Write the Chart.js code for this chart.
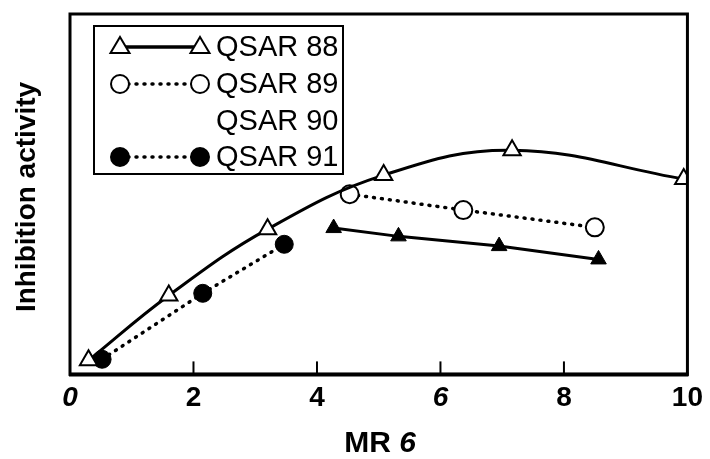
<!DOCTYPE html>
<html>
<head>
<meta charset="utf-8">
<script src="https://cdn.jsdelivr.net/npm/chart.js@4"></script>
<style>
  html, body { margin: 0; padding: 0; background: #fff; }
</style>
</head>
<body>
<canvas id="canvas" width="710" height="459"></canvas>
<script>
// MR values (x) and inhibition activity (y, arbitrary units 0-100)
var qsar88X = [0.3, 1.6, 3.2, 5.08, 7.16, 9.94];
var qsar88Y = [3.9, 21.9, 40.3, 55.3, 62.2, 54.2];
var qsar89X = [4.53, 6.37, 8.5];
var qsar89Y = [50.0, 45.6, 40.8];
var qsar90X = [4.27, 5.32, 6.95, 8.56];
var qsar90Y = [40.6, 38.3, 35.6, 31.9];
var qsar91X = [0.52, 2.15, 3.47];
var qsar91Y = [4.2, 22.5, 36.1];
var xTicks = [0, 2, 4, 6, 8, 10];
var seriesNames = ['QSAR 88', 'QSAR 89', 'QSAR 90', 'QSAR 91'];

var FONT = "'Liberation Sans', Arial, Helvetica, sans-serif";

function pts(xs, ys) {
    return xs.map(function(x, i) { return {x: x, y: ys[i]}; });
}

function drawMarker(ctx, style, filled, x, y, r) {
    ctx.save();
    ctx.beginPath();
    if (style === 'triangle') {
        ctx.moveTo(x, y - r);
        ctx.lineTo(x + r * 0.95, y + r * 0.6);
        ctx.lineTo(x - r * 0.95, y + r * 0.6);
        ctx.closePath();
    } else {
        ctx.arc(x, y, r, 0, Math.PI * 2);
    }
    ctx.fillStyle = filled ? '#000' : '#fff';
    ctx.fill();
    ctx.lineWidth = 2;
    ctx.strokeStyle = '#000';
    ctx.stroke();
    ctx.restore();
}

// frame, inward tick marks, titles and the boxed legend
var decorPlugin = {
    id: 'decor',
    afterDraw: function(chart) {
        var ctx = chart.ctx;
        var a = chart.chartArea;
        var xs = chart.scales.x;
        ctx.save();
        ctx.strokeStyle = '#000';
        ctx.lineWidth = 3;
        ctx.strokeRect(a.left, a.top, a.right - a.left, a.bottom - a.top);
        ctx.lineWidth = 4;
        ctx.beginPath();
        ctx.moveTo(a.left - 1, a.bottom);
        ctx.lineTo(a.right + 1, a.bottom);
        ctx.stroke();

        ctx.lineWidth = 2;
        xTicks.forEach(function(v) {
            if (v === 0 || v === 10) return;
            var px = xs.getPixelForValue(v);
            ctx.beginPath();
            ctx.moveTo(px, a.bottom);
            ctx.lineTo(px, a.bottom - 13);
            ctx.stroke();
        });

        // x title "MR 6" with italic 6
        ctx.fillStyle = '#000';
        ctx.textBaseline = 'middle';
        ctx.textAlign = 'left';
        var f1 = 'bold 30px ' + FONT, f2 = 'italic bold 30px ' + FONT;
        ctx.font = f1;
        var w1 = ctx.measureText('MR ').width;
        ctx.font = f2;
        var w2 = ctx.measureText('6').width;
        var sx = 380 - (w1 + w2) / 2;
        ctx.font = f1;
        ctx.fillText('MR ', sx, 444);
        ctx.font = f2;
        ctx.fillText('6', sx + w1, 444);

        // y title
        ctx.save();
        ctx.translate(27, 197);
        ctx.rotate(-Math.PI / 2);
        ctx.textAlign = 'center';
        ctx.font = 'bold 28px ' + FONT;
        ctx.fillText('Inhibition activity', 0, 0);
        ctx.restore();

        // legend
        ctx.lineWidth = 2;
        ctx.strokeRect(94, 26, 249, 148);
        var rows = [47, 84, 121, 157];
        var styles = [
            {marker: 'triangle', filled: false, dash: [], show: true, r: 10},
            {marker: 'circle', filled: false, dash: [1, 7], show: true, r: 9},
            {marker: null, filled: true, dash: [], show: false, r: 0},
            {marker: 'circle', filled: true, dash: [1, 7], show: true, r: 9}
        ];
        rows.forEach(function(y, i) {
            var s = styles[i];
            if (s.show) {
                ctx.save();
                ctx.lineWidth = 3.5;
                ctx.lineCap = s.dash.length ? 'round' : 'butt';
                ctx.setLineDash(s.dash);
                ctx.beginPath();
                ctx.moveTo(120, y);
                ctx.lineTo(200, y);
                ctx.stroke();
                ctx.restore();
                drawMarker(ctx, s.marker, s.filled, 120, y, s.r);
                drawMarker(ctx, s.marker, s.filled, 200, y, s.r);
            }
            ctx.fillStyle = '#000';
            ctx.textAlign = 'left';
            ctx.font = '29px ' + FONT;
            ctx.fillText(seriesNames[i], 216, y + 1);
        });
        ctx.restore();
    }
};

var ctx = document.getElementById('canvas').getContext('2d');
window.myChart = new Chart(ctx, {
    type: 'line',
    plugins: [decorPlugin],
    data: {
        datasets: [{
            label: seriesNames[0],
            data: pts(qsar88X, qsar88Y),
            borderColor: '#000',
            borderWidth: 3,
            tension: 0.4,
            pointStyle: 'triangle',
            pointRadius: 10,
            pointBackgroundColor: '#fff',
            pointBorderColor: '#000',
            pointBorderWidth: 2
        }, {
            label: seriesNames[1],
            data: pts(qsar89X, qsar89Y),
            borderColor: '#000',
            borderWidth: 3.5,
            borderDash: [1, 7],
            borderCapStyle: 'round',
            pointStyle: 'circle',
            pointRadius: 9,
            pointBackgroundColor: '#fff',
            pointBorderColor: '#000',
            pointBorderWidth: 2
        }, {
            label: seriesNames[2],
            data: pts(qsar90X, qsar90Y),
            borderColor: '#000',
            borderWidth: 3,
            pointStyle: 'triangle',
            pointRadius: 9,
            pointBackgroundColor: '#000',
            pointBorderColor: '#000',
            pointBorderWidth: 1
        }, {
            label: seriesNames[3],
            data: pts(qsar91X, qsar91Y),
            borderColor: '#000',
            borderWidth: 3.5,
            borderDash: [1, 7],
            borderCapStyle: 'round',
            pointStyle: 'circle',
            pointRadius: 9,
            pointBackgroundColor: '#000',
            pointBorderColor: '#000',
            pointBorderWidth: 1
        }]
    },
    options: {
        responsive: false,
        animation: false,
        layout: {
            padding: {left: 70, right: 20, top: 14, bottom: 37}
        },
        plugins: {
            legend: {display: false},
            tooltip: {enabled: false}
        },
        scales: {
            x: {
                type: 'linear',
                min: 0,
                max: 10,
                afterBuildTicks: function(axis) {
                    axis.ticks = xTicks.map(function(v) { return {value: v}; });
                },
                grid: {display: false, drawTicks: false},
                border: {display: false},
                ticks: {
                    color: '#000',
                    padding: 7,
                    maxRotation: 0,
                    font: function(c) {
                        var v = c.tick ? c.tick.value : null;
                        return {
                            family: FONT,
                            size: 28,
                            weight: 'bold',
                            style: (v === 0 || v === 6) ? 'italic' : 'normal'
                        };
                    }
                }
            },
            y: {
                type: 'linear',
                display: false,
                min: 0,
                max: 100
            }
        }
    }
});
</script>
</body>
</html>
